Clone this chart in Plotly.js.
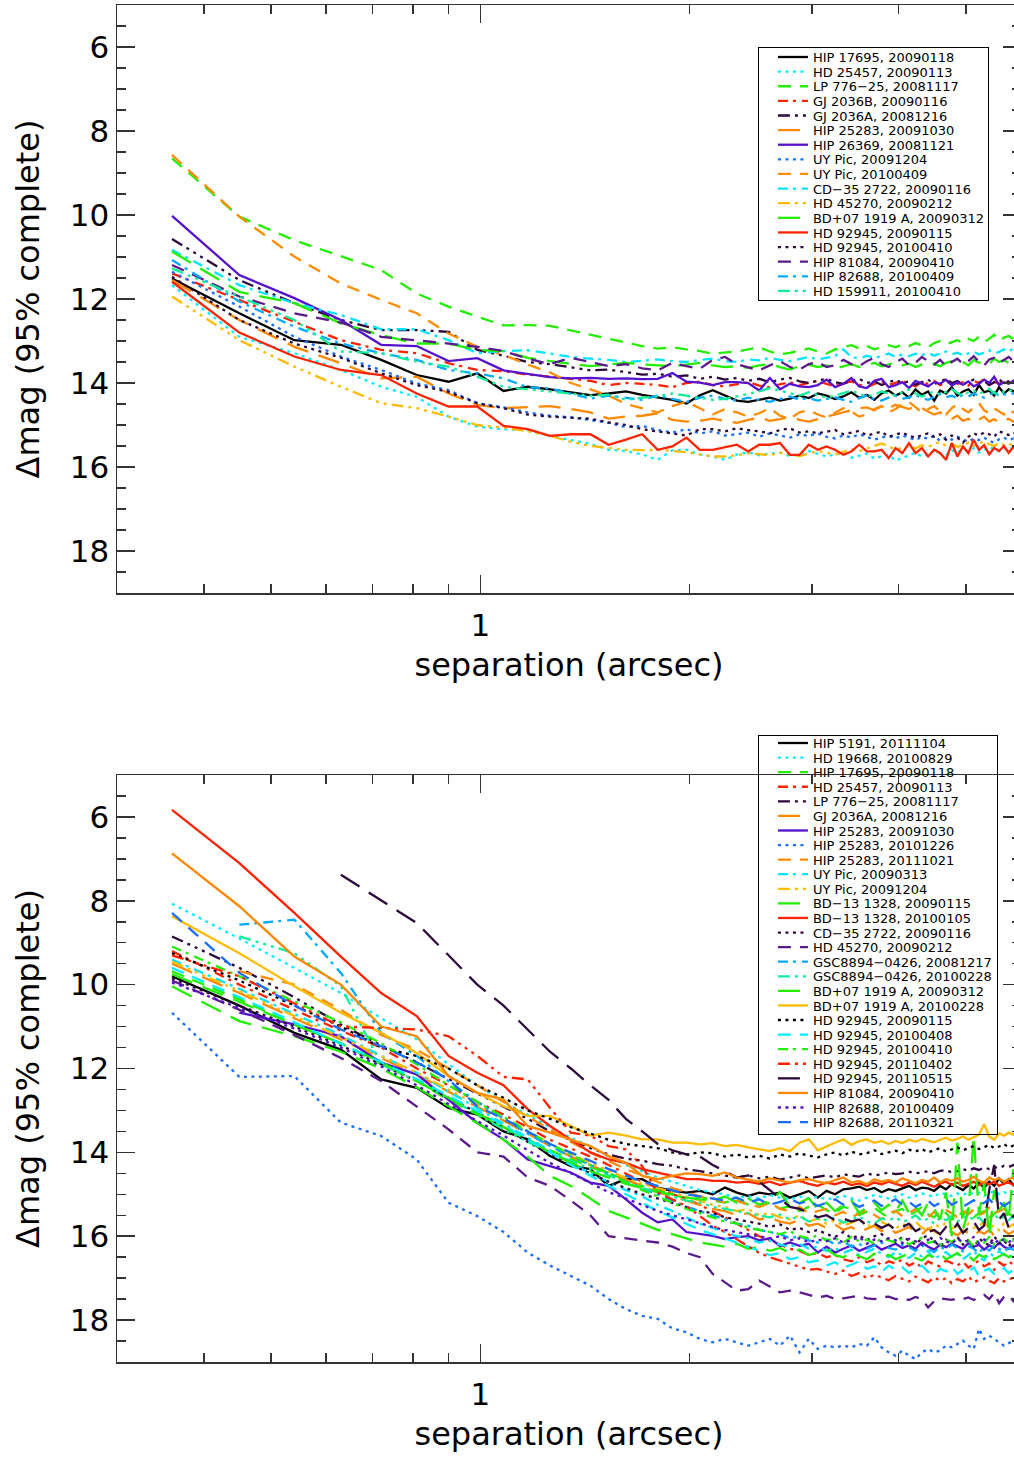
<!DOCTYPE html>
<html>
<head>
<meta charset="utf-8">
<script src="https://cdn.plot.ly/plotly-3.0.1.min.js"></script>
<style>
html,body{margin:0;padding:0;background:#fff;overflow:hidden;width:1014px;height:1459px;}
#top,#bot{width:1022px;}
</style>
</head>
<body>
<div id="top"></div>
<div id="bot"></div>
<script>
// ---------- shared separation grid (arcsec) ----------
const sep = [0.36,0.45,0.54,0.63,0.72,0.81,0.90,0.99,1.08,1.17,
1.26,1.35,1.44,1.53,1.62,1.71,1.80,1.89,1.98,2.07,
2.16,2.25,2.34,2.43,2.52,2.61,2.70,2.79,2.88,2.97,
3.06,3.15,3.24,3.33,3.42,3.51,3.60,3.69,3.78,3.87,
3.96,4.05,4.14,4.23,4.32,4.41,4.50,4.59,4.68,4.77,
4.86,4.95,5.04,5.13,5.22,5.31,5.40,5.49,5.58,5.67,
5.76,5.85,5.94];

const xMinorTicks = [0.3,0.4,0.5,0.6,0.7,0.8,0.9,2,3,4,5,6];
const xMajorTicks = [1];
const xMajorText = ['1'];
const yMajorTicks = [6,8,10,12,14,16,18];

// ---------- TOP PANEL series (Δmag, 95% complete) ----------
const topNames = ['HIP 17695, 20090118','HD 25457, 20090113','LP 776\u221225, 20081117','GJ 2036B, 20090116','GJ 2036A, 20081216','HIP 25283, 20091030','HIP 26369, 20081121','UY Pic, 20091204','UY Pic, 20100409','CD\u221235 2722, 20090116','HD 45270, 20090212','BD+07 1919 A, 20090312','HD 92945, 20090115','HD 92945, 20100410','HIP 81084, 20090410','HIP 82688, 20100409','HD 159911, 20100410'];

const t_hip17695 = [11.51,12.34,12.98,13.09,13.45,13.81,13.97,13.77,14.19,14.09,
14.15,14.22,14.29,14.25,14.20,14.28,14.35,14.40,14.49,14.29,
14.17,14.30,14.42,14.45,14.40,14.35,14.42,14.37,14.30,14.36,
14.25,14.30,14.38,14.32,14.22,14.35,14.28,14.40,14.25,14.18,
14.30,14.22,14.35,14.15,14.28,14.20,14.42,14.18,14.25,14.10,
14.30,14.20,14.15,14.28,14.05,14.22,14.18,14.30,14.10,14.25,
14.15,14.20,14.12];
const t_hd25457 = [11.67,12.90,13.29,13.69,14.09,14.33,14.80,15.04,15.10,15.12,
15.26,15.35,15.45,15.59,15.62,15.70,15.83,15.60,15.59,15.70,
15.75,15.83,15.70,15.65,15.72,15.68,15.66,15.74,15.70,15.62,
15.68,15.75,15.70,15.66,15.78,15.72,15.68,15.80,15.74,15.70,
15.85,15.78,15.72,15.66,15.75,15.70,15.62,15.68,15.72,15.60,
15.65,15.58,15.62,15.55,15.66,15.60,15.52,15.58,15.62,15.55,
15.60,15.52,15.58];
const t_lp77625 = [8.65,10.04,10.60,10.99,11.31,11.87,12.18,12.42,12.63,12.62,
12.64,12.75,12.85,12.95,13.05,13.12,13.18,13.15,13.20,13.24,
13.30,13.28,13.25,13.20,13.15,13.25,13.32,13.28,13.22,13.18,
13.25,13.30,13.20,13.15,13.10,13.18,13.12,13.20,13.15,13.10,
13.15,13.08,13.12,13.05,13.10,13.15,13.05,13.00,13.08,13.02,
12.98,13.05,12.95,13.00,12.90,13.02,12.95,12.85,13.00,12.92,
12.88,12.95,12.90];
const t_gj2036b = [11.39,12.02,12.54,12.98,13.21,13.29,13.53,13.69,13.72,13.80,
13.85,13.90,13.95,14.05,14.00,14.02,14.05,14.10,14.00,13.97,
14.05,14.08,14.02,13.98,14.06,14.10,14.03,13.98,14.05,14.00,
13.95,14.02,14.08,14.00,13.96,14.04,14.10,14.02,13.97,14.05,
14.00,13.94,14.03,14.08,13.98,14.02,13.95,14.05,14.00,13.92,
14.02,13.98,14.06,13.95,14.00,13.90,14.04,13.97,14.02,13.94,
13.98,14.02,13.95];
const t_gj2036a = [10.57,11.55,12.10,12.50,12.74,12.74,12.78,13.21,13.35,13.50,
13.55,13.62,13.70,13.68,13.75,13.80,13.78,13.85,13.82,13.90,
13.85,13.92,13.88,13.95,13.90,13.98,13.92,13.88,13.96,14.00,
13.94,13.90,13.98,14.02,13.95,13.90,14.00,13.96,14.05,13.98,
13.92,14.00,13.96,14.04,13.98,13.92,14.02,13.97,13.90,14.00,
13.95,14.03,13.98,13.92,14.00,13.95,14.05,13.98,13.92,14.00,
13.96,13.90,13.98];
const t_hip25283 = [11.55,12.50,13.14,13.53,13.89,13.85,14.25,14.52,14.60,14.58,
14.55,14.62,14.70,14.85,14.80,14.78,14.72,14.88,14.92,14.90,
14.85,14.90,14.95,14.88,14.82,14.90,14.86,14.80,14.88,14.92,
14.85,14.80,14.75,14.70,14.65,14.60,14.58,14.65,14.55,14.60,
14.52,14.58,14.62,14.55,14.60,14.68,14.75,14.70,14.80,14.85,
14.78,14.90,14.85,14.95,14.88,14.80,14.92,14.86,14.95,14.90,
14.85,14.92,14.88];
const t_hip26369 = [10.02,11.43,11.98,12.50,13.09,13.12,13.48,13.41,13.70,13.78,
13.86,13.89,13.88,13.90,13.89,13.91,13.90,13.76,13.97,13.99,
14.05,13.98,13.98,14.00,14.18,13.88,14.15,14.02,14.08,14.10,
14.05,13.92,14.10,14.02,13.88,14.08,14.12,13.95,13.90,14.10,
14.05,13.98,14.12,13.95,14.02,14.08,13.98,14.02,13.92,14.06,
13.98,14.04,13.96,14.08,14.02,13.92,14.00,13.85,14.05,13.98,
14.02,13.95,14.00];
const t_uypic_0912 = [11.35,12.18,12.90,13.37,13.69,14.01,14.17,14.48,14.58,14.70,
14.78,14.82,14.88,14.95,15.05,15.02,15.12,15.18,15.10,15.20,
15.15,15.25,15.22,15.18,15.28,15.20,15.25,15.30,15.22,15.26,
15.20,15.28,15.32,15.25,15.30,15.22,15.28,15.35,15.30,15.26,
15.32,15.25,15.30,15.36,15.28,15.33,15.26,15.38,15.30,15.35,
15.28,15.34,15.40,15.32,15.36,15.30,15.38,15.42,15.34,15.30,
15.36,15.32,15.38];
const t_uypic_1004 = [8.57,10.04,10.99,11.63,12.02,12.34,12.82,13.14,13.33,13.56,
13.75,14.00,14.15,14.30,14.50,14.60,14.70,14.55,14.45,14.60,
14.75,14.62,14.70,14.80,14.72,14.60,14.78,14.85,14.70,14.65,
14.75,14.82,14.70,14.60,14.68,14.80,14.75,14.62,14.55,14.70,
14.62,14.50,14.45,14.58,14.70,14.62,14.55,14.68,14.75,14.60,
14.50,14.62,14.70,14.58,14.48,14.65,14.72,14.60,14.68,14.75,
14.62,14.70,14.66];
const t_cd352722 = [10.83,11.67,12.10,12.38,12.72,12.72,12.98,13.29,13.24,13.22,
13.30,13.38,13.42,13.45,13.50,13.46,13.44,13.48,13.50,13.45,
13.42,13.48,13.50,13.44,13.46,13.40,13.45,13.48,13.42,13.38,
13.44,13.40,13.36,13.20,13.38,13.42,13.35,13.40,13.36,13.30,
13.38,13.32,13.36,13.30,13.34,13.28,13.35,13.30,13.25,13.32,
13.28,13.34,13.30,13.25,13.32,13.28,13.22,13.30,13.26,13.20,
13.25,13.18,13.22];
const t_hd45270 = [11.94,12.98,13.61,14.09,14.48,14.60,14.80,15.00,15.06,15.15,
15.26,15.40,15.50,15.55,15.59,15.60,15.59,15.62,15.65,15.70,
15.75,15.75,15.72,15.67,15.70,15.72,15.66,15.70,15.74,15.68,
15.62,15.66,15.70,15.64,15.58,15.62,15.55,15.50,15.44,15.52,
15.58,15.54,15.50,15.56,15.48,15.52,15.46,15.40,15.50,15.45,
15.52,15.48,15.42,15.50,15.45,15.38,15.46,15.50,15.42,15.48,
15.44,15.50,15.46];
const t_bd071919 = [10.87,11.83,12.10,12.58,12.86,13.06,13.06,13.21,13.24,13.40,
13.48,13.55,13.60,13.56,13.52,13.56,13.58,13.60,13.56,13.52,
13.58,13.62,13.60,13.64,13.58,13.55,13.62,13.68,13.60,13.56,
13.62,13.58,13.66,13.60,13.55,13.62,13.58,13.52,13.60,13.56,
13.50,13.58,13.54,13.62,13.56,13.50,13.55,13.60,13.52,13.48,
13.55,13.50,13.58,13.45,13.52,13.48,13.55,13.42,13.50,13.46,
13.52,13.48,13.50];
const t_hd92945_0901 = [11.59,12.80,13.37,13.69,13.81,14.25,14.56,14.56,15.02,15.10,
15.26,15.22,15.22,15.47,15.35,15.22,15.59,15.51,15.30,15.59,
15.59,15.52,15.47,15.63,15.47,15.47,15.43,15.71,15.71,15.47,
15.59,15.51,15.59,15.71,15.63,15.47,15.63,15.63,15.59,15.79,
15.55,15.67,15.43,15.67,15.55,15.75,15.59,15.67,15.83,15.43,
15.75,15.51,15.67,15.35,15.59,15.48,15.70,15.55,15.62,15.50,
15.66,15.52,15.60];
const t_hd92945_1004 = [11.47,12.50,13.06,13.40,13.77,14.05,14.21,14.48,14.60,14.75,
14.80,14.82,14.85,14.94,15.00,15.10,15.15,15.20,15.25,15.10,
15.10,15.15,15.08,15.12,15.15,15.20,15.12,15.08,15.18,15.15,
15.20,15.16,15.12,15.22,15.18,15.14,15.25,15.20,15.16,15.28,
15.22,15.18,15.26,15.30,15.24,15.20,15.28,15.22,15.35,15.25,
15.30,15.42,15.28,15.20,15.25,15.18,15.22,15.28,15.15,15.20,
15.24,15.18,15.22];
const t_hip81084 = [11.19,11.94,12.34,12.56,12.90,12.98,13.06,13.14,13.24,13.42,
13.55,13.40,13.50,13.60,13.55,13.65,13.70,13.52,13.60,13.66,
13.45,13.38,13.55,13.62,13.70,13.58,13.48,13.62,13.68,13.55,
13.50,13.62,13.58,13.45,13.55,13.60,13.48,13.40,13.55,13.62,
13.50,13.42,13.58,13.52,13.38,13.48,13.56,13.45,13.60,13.50,
13.42,13.55,13.48,13.36,13.50,13.58,13.44,13.40,13.52,13.45,
13.38,13.48,13.42];
const t_hip82688 = [11.07,12.06,12.66,13.06,13.29,13.45,13.69,13.77,13.89,14.10,
14.13,14.25,14.37,14.30,14.35,14.40,14.30,14.38,14.45,14.35,
14.30,14.38,14.42,14.35,14.40,14.45,14.38,14.32,14.40,14.36,
14.42,14.38,14.34,14.40,14.45,14.36,14.30,14.38,14.42,14.35,
14.30,14.38,14.34,14.28,14.36,14.40,14.32,14.26,14.34,14.30,
14.36,14.28,14.32,14.25,14.30,14.35,14.28,14.22,14.30,14.26,
14.30,14.24,14.28];
const t_hd159911 = [11.27,11.94,12.50,13.25,13.29,13.49,13.61,13.85,14.09,14.15,
14.20,14.25,14.30,14.28,14.40,14.35,14.32,14.25,14.30,14.35,
14.40,14.38,14.32,14.25,14.20,14.12,14.18,14.25,14.30,14.22,
14.28,14.35,14.30,14.24,14.18,14.26,14.32,14.28,14.20,14.25,
14.30,14.22,14.16,14.25,14.32,14.26,14.20,14.28,14.22,14.15,
14.24,14.30,14.22,14.18,14.26,14.20,14.14,14.24,14.28,14.20,
14.16,14.22,14.18];

const topSeries = [t_hip17695,t_hd25457,t_lp77625,t_gj2036b,t_gj2036a,t_hip25283,t_hip26369,t_uypic_0912,t_uypic_1004,t_cd352722,t_hd45270,t_bd071919,t_hd92945_0901,t_hd92945_1004,t_hip81084,t_hip82688,t_hd159911];

// ---------- BOTTOM PANEL series ----------
const botNames = ['HIP 5191, 20111104','HD 19668, 20100829','HIP 17695, 20090118','HD 25457, 20090113','LP 776\u221225, 20081117','GJ 2036A, 20081216','HIP 25283, 20091030','HIP 25283, 20101226','HIP 25283, 20111021','UY Pic, 20090313','UY Pic, 20091204','BD\u221213 1328, 20090115','BD\u221213 1328, 20100105','CD\u221235 2722, 20090116','HD 45270, 20090212','GSC8894\u22120426, 20081217','GSC8894\u22120426, 20100228','BD+07 1919 A, 20090312','BD+07 1919 A, 20100228','HD 92945, 20090115','HD 92945, 20100408','HD 92945, 20100410','HD 92945, 20110402','HD 92945, 20110515','HIP 81084, 20090410','HIP 82688, 20100409','HIP 82688, 20110321'];

const b_hip5191 = [9.80,10.50,11.15,11.55,12.26,12.46,12.94,13.10,13.50,13.69,
14.09,14.33,14.40,14.80,14.64,14.64,14.84,14.92,14.96,14.92,
15.00,14.84,14.96,15.04,14.96,15.00,14.96,15.08,15.00,14.92,
15.08,14.92,15.00,14.88,14.86,14.82,14.90,14.85,14.95,14.88,
14.92,14.85,14.80,14.90,14.84,14.86,14.92,14.80,14.88,14.76,
14.84,14.90,14.78,14.86,14.72,14.85,14.70,14.80,14.62,14.75,
14.64,14.78,14.70];
const b_hd19668 = [8.07,8.90,9.60,10.20,10.80,11.30,11.90,12.40,12.80,13.10,
13.40,13.65,13.85,14.10,14.30,14.45,14.60,14.70,14.80,14.90,
14.95,15.00,15.08,15.05,15.10,15.02,15.08,15.12,15.05,15.10,
15.06,15.12,15.08,15.04,15.10,15.15,15.08,15.02,15.06,15.10,
15.05,15.00,15.08,15.04,14.98,15.02,15.06,14.96,15.00,15.04,
14.98,15.02,14.95,15.00,14.96,15.04,14.98,14.92,15.00,14.95,
14.98,14.94,15.00];
const b_hip17695 = [9.68,10.35,10.95,11.40,11.90,12.30,12.75,13.10,13.40,13.70,
13.95,14.15,14.35,14.50,14.65,14.80,14.90,15.00,15.10,15.05,
15.15,15.20,15.10,15.25,15.30,15.20,15.35,15.28,15.40,15.30,
15.25,15.38,15.45,15.30,15.35,15.50,15.40,15.32,15.45,15.55,
15.40,15.35,15.50,15.42,15.30,15.48,15.55,15.38,15.45,15.60,
15.42,15.50,15.35,15.55,15.45,15.40,15.58,15.48,15.36,15.50,
15.45,15.55,15.40];
const b_hd25457 = [9.20,10.00,10.60,11.10,11.50,12.00,12.40,12.80,13.10,13.40,
13.70,13.90,14.10,14.30,14.50,14.70,14.85,15.00,15.10,15.25,
15.40,15.55,15.70,15.85,16.00,16.10,16.20,16.30,16.35,16.45,
16.40,16.50,16.45,16.55,16.60,16.50,16.62,16.55,16.70,16.60,
16.65,16.55,16.70,16.62,16.75,16.60,16.68,16.72,16.58,16.65,
16.70,16.60,16.75,16.66,16.58,16.72,16.65,16.80,16.62,16.70,
16.60,16.68,16.55];
const b_lp77625 = [8.85,9.60,10.30,10.95,11.45,11.85,12.25,12.60,12.90,13.20,
13.50,13.70,13.90,14.05,14.15,14.20,14.28,14.32,14.40,14.45,
14.50,14.55,14.60,14.55,14.62,14.58,14.65,14.60,14.55,14.62,
14.58,14.55,14.60,14.52,14.56,14.58,14.50,14.55,14.52,14.48,
14.52,14.50,14.46,14.50,14.48,14.45,14.50,14.44,14.42,14.48,
14.45,14.40,14.44,14.38,14.42,14.36,14.40,14.35,14.38,14.32,
14.35,14.30,14.34];
const b_gj2036a = [9.50,10.20,10.80,11.30,11.75,12.15,12.55,12.90,13.25,13.55,
13.85,14.10,14.30,14.50,14.65,14.80,14.95,15.05,15.15,15.25,
15.35,15.40,15.50,15.45,15.60,15.55,15.65,15.70,15.60,15.75,
15.70,15.80,15.72,15.85,15.78,15.90,15.82,15.75,15.88,15.80,
15.92,15.85,15.78,15.90,15.95,15.82,15.88,15.96,15.84,15.90,
15.98,15.86,15.92,16.00,15.88,15.94,15.85,15.98,15.90,15.86,
15.95,15.88,15.92];
const b_hip25283_0910 = [null,10.67,10.95,11.23,11.86,12.14,12.74,13.30,13.69,14.17,
14.33,14.48,14.72,14.80,15.12,15.44,15.67,15.60,15.90,15.95,
15.99,16.07,16.02,16.00,16.10,16.05,16.23,16.15,16.23,16.18,
16.39,16.25,16.39,16.30,16.22,16.35,16.28,16.20,16.32,16.25,
16.18,16.28,16.22,16.30,16.15,16.25,16.32,16.20,16.26,16.18,
16.24,16.30,16.16,16.25,16.20,16.32,16.22,16.28,16.15,16.25,
16.30,16.22,16.35];
const b_hip25283_1012 = [10.67,12.20,12.18,13.29,13.61,14.17,15.20,15.52,15.90,16.39,
16.70,16.94,17.18,17.50,17.74,17.90,17.97,18.20,18.29,18.45,
18.53,18.45,18.53,18.61,18.53,18.45,18.61,18.37,18.77,18.45,
18.69,18.61,18.65,18.61,18.65,18.57,18.61,18.41,18.65,18.77,
18.85,18.73,18.85,18.93,18.77,18.69,18.77,18.73,18.61,18.65,
18.57,18.49,18.61,18.69,18.21,18.45,18.37,18.45,18.53,18.61,
18.55,18.50,18.58];
const b_hip25283_1110 = [null,9.68,10.00,10.60,11.20,11.55,12.00,12.40,12.80,13.15,
13.45,13.75,14.00,14.20,14.40,14.55,14.70,14.85,14.95,15.05,
15.10,15.20,15.15,15.25,15.30,15.20,15.35,15.40,15.30,15.45,
15.40,15.35,15.50,15.42,15.55,15.45,15.38,15.50,15.60,15.45,
15.40,15.52,15.45,15.35,15.48,15.55,15.42,15.50,15.38,15.45,
15.55,15.40,15.48,15.36,15.50,15.44,15.32,15.46,15.40,15.35,
15.42,15.30,15.38];
const b_uypic_0903 = [9.40,10.10,10.70,11.20,11.70,12.10,12.55,12.95,13.30,13.65,
13.95,14.25,14.50,14.70,14.90,15.05,15.25,15.40,15.55,15.70,
15.80,15.90,16.00,16.05,16.15,16.10,16.20,16.25,16.18,16.30,
16.25,16.35,16.28,16.40,16.32,16.45,16.38,16.30,16.42,16.50,
16.38,16.45,16.52,16.40,16.48,16.35,16.55,16.45,16.38,16.50,
16.42,16.55,16.45,16.35,16.50,16.58,16.40,16.48,16.36,16.45,
16.52,16.40,16.46];
const b_uypic_0912 = [9.45,10.15,10.75,11.25,11.70,12.10,12.50,12.85,13.20,13.50,
13.80,14.05,14.25,14.45,14.60,14.75,14.85,14.95,15.05,15.15,
15.25,15.30,15.40,15.35,15.50,15.45,15.55,15.60,15.50,15.65,
15.58,15.70,15.62,15.75,15.68,15.60,15.72,15.80,15.66,15.75,
15.82,15.70,15.78,15.65,15.80,15.85,15.72,15.78,15.68,15.82,
15.75,15.88,15.70,15.80,15.76,15.65,15.82,15.74,15.86,15.70,
15.78,15.72,15.80];
const b_bd131328_0901 = [10.04,10.87,11.23,11.60,12.00,12.45,12.90,13.30,13.70,14.10,
14.56,14.80,15.10,15.40,15.55,15.70,15.85,15.95,16.05,16.15,
16.20,16.25,16.18,16.30,16.25,16.35,16.28,16.40,16.32,16.45,
16.38,16.30,16.45,16.50,16.40,16.48,16.55,16.42,16.50,16.45,
16.55,16.48,16.40,16.52,16.58,16.45,16.50,16.42,16.55,16.48,
16.40,16.52,16.46,16.58,16.44,16.50,16.38,16.55,16.48,16.42,
16.50,16.45,16.52];
const b_bd131328_1001 = [5.83,7.10,8.29,9.33,10.20,10.75,11.70,12.10,12.40,12.97,
13.37,13.69,14.00,14.17,14.25,14.40,14.48,14.56,14.64,14.64,
14.68,14.68,14.72,14.70,14.75,14.70,14.78,14.72,14.68,14.75,
14.80,14.72,14.76,14.70,14.78,14.74,14.80,14.72,14.76,14.70,
14.75,14.80,14.72,14.78,14.70,14.76,14.82,14.74,14.70,14.78,
14.72,14.80,14.75,14.70,14.78,14.72,14.76,14.70,14.80,14.74,
14.72,14.78,14.75];
const b_cd352722 = [9.85,10.50,11.00,11.45,11.90,12.30,12.70,13.05,13.40,13.75,
14.05,14.30,14.50,14.70,14.85,15.00,15.10,15.20,15.30,15.40,
15.45,15.55,15.60,15.65,15.70,15.78,15.72,15.85,15.80,15.90,
15.85,15.95,16.02,15.90,16.05,15.98,16.10,16.00,15.95,16.08,
16.15,16.02,16.10,16.20,16.05,15.98,16.12,16.25,16.08,16.15,
16.02,16.20,16.10,16.28,16.05,16.15,16.22,16.00,16.18,16.10,
16.25,16.08,16.15];
const b_hd45270 = [9.90,10.60,11.20,11.75,12.30,12.90,13.45,14.00,14.10,14.60,
14.80,15.15,15.50,16.00,16.05,16.10,16.15,16.25,16.40,16.50,
16.90,17.10,17.30,17.26,17.06,17.20,17.34,17.30,17.34,17.40,
17.46,17.42,17.50,17.48,17.45,17.42,17.48,17.50,17.46,17.44,
17.50,17.48,17.52,17.45,17.50,17.70,17.55,17.48,17.50,17.52,
17.48,17.50,17.46,17.52,17.45,17.40,17.50,17.35,17.60,17.45,
17.40,17.55,17.48];
const b_gsc8894_0812 = [null,8.57,8.45,9.72,11.15,11.70,12.30,12.80,13.20,13.55,
13.85,14.10,14.30,14.50,14.70,14.85,15.00,15.15,15.30,15.40,
15.50,15.60,15.70,15.75,15.85,15.90,15.95,16.05,16.00,16.10,
16.15,16.08,16.20,16.12,16.25,16.18,16.30,16.22,16.15,16.28,
16.32,16.20,16.26,16.35,16.22,16.30,16.38,16.25,16.32,16.20,
16.28,16.36,16.24,16.30,16.40,16.26,16.34,16.22,16.30,16.38,
16.28,16.32,16.25];
const b_gsc8894_1002 = [null,8.85,9.25,10.04,11.90,12.30,12.70,13.10,13.45,13.75,
14.00,14.20,14.40,14.55,14.70,14.85,14.95,15.05,15.15,15.20,
15.30,15.35,15.40,15.45,15.50,15.55,15.48,15.60,15.52,15.65,
15.58,15.62,15.55,15.68,15.60,15.52,15.65,15.70,15.58,15.62,
15.55,15.66,15.60,15.50,15.64,15.58,15.70,15.55,15.62,15.52,
15.65,15.58,15.50,15.62,15.55,15.68,15.56,15.48,15.60,15.54,
15.62,15.50,15.58];
const b_bd071919_0903 = [9.75,10.40,10.95,11.40,11.85,12.30,12.70,13.05,13.40,13.70,
14.00,14.25,14.45,14.60,14.75,14.85,14.95,15.00,15.08,15.12,
15.15,15.05,15.20,15.10,15.25,15.15,14.95,15.30,15.20,15.10,
15.35,15.20,15.40,15.25,15.15,15.45,15.30,15.20,15.38,15.25,
15.40,15.15,15.45,15.30,15.50,15.20,15.35,15.60,14.96,16.00,
13.77,15.83,15.40,13.60,15.50,14.72,16.00,14.90,15.40,15.20,
15.60,14.40,15.30];
const b_bd071919_1002 = [8.37,9.25,10.04,10.67,11.15,11.63,12.18,12.58,12.90,13.13,
13.13,13.37,13.60,13.53,13.60,13.69,13.69,13.77,13.77,13.81,
13.78,13.85,13.82,13.88,13.92,13.97,13.90,13.97,13.77,13.69,
13.95,13.85,13.77,13.69,13.82,13.73,13.69,13.77,13.73,13.80,
13.73,13.78,13.70,13.75,13.68,13.72,13.76,13.70,13.65,13.72,
13.68,13.62,13.70,13.64,13.58,13.33,13.62,13.70,13.55,13.60,
13.53,13.58,13.50];
const b_hd92945_0901 = [9.25,9.90,10.50,11.00,11.50,11.70,12.00,12.40,12.70,13.00,
13.20,13.40,13.55,13.70,13.80,13.85,13.90,14.00,14.05,14.00,
14.02,14.10,14.05,14.12,14.08,14.15,14.05,14.10,14.02,14.08,
14.12,14.05,14.00,14.08,13.98,14.05,14.02,13.95,14.04,14.00,
13.96,14.02,13.94,13.98,13.92,14.00,13.95,13.90,13.98,13.92,
13.88,13.95,13.90,13.85,13.92,13.88,13.82,13.90,13.86,13.80,
13.88,13.84,13.86];
const b_hd92945_1004a = [9.60,10.30,10.90,11.40,11.85,12.25,12.65,13.00,13.35,13.70,
14.00,14.30,14.55,14.80,15.00,15.20,15.40,15.55,15.70,15.85,
15.95,16.05,16.15,16.25,16.35,16.45,16.40,16.55,16.50,16.62,
16.58,16.70,16.62,16.75,16.68,16.60,16.78,16.72,16.85,16.70,
16.80,16.74,16.88,16.76,16.70,16.85,16.92,16.78,16.84,16.72,
16.90,16.80,16.86,16.74,16.95,16.82,16.78,16.90,16.84,16.76,
16.88,16.80,16.85];
const b_hd92945_1004b = [9.09,9.80,10.40,10.90,11.40,11.90,12.40,12.80,13.15,13.50,
13.80,14.05,14.30,14.50,14.70,14.90,15.05,15.20,15.35,15.45,
15.55,15.65,15.70,15.80,15.85,15.90,15.95,15.88,16.00,16.05,
15.98,16.10,16.05,16.15,16.02,16.12,16.08,16.18,16.05,16.10,
16.15,16.06,16.20,16.10,16.04,16.16,16.12,16.22,16.08,16.14,
16.05,16.18,16.10,16.24,16.08,16.15,16.02,16.20,16.12,16.06,
16.15,16.10,16.18];
const b_hd92945_1104 = [9.30,9.80,10.45,11.00,11.03,11.07,11.23,11.70,12.20,12.26,
12.94,13.53,13.60,13.85,13.93,14.33,14.96,15.12,15.28,15.52,
15.75,15.90,16.07,16.25,16.40,16.50,16.58,16.65,16.72,16.80,
16.78,16.85,16.90,16.82,16.95,16.88,17.00,16.92,16.98,17.05,
16.95,17.02,17.08,16.96,17.04,17.10,16.98,17.06,17.00,17.12,
17.02,17.08,16.96,17.10,17.04,16.98,17.06,17.12,17.00,17.08,
17.04,16.98,17.05];
const b_hd92945_1105 = [null,null,null,7.38,7.98,8.53,9.30,10.00,10.50,11.07,
11.60,12.00,12.40,12.75,13.20,13.50,13.80,13.95,14.05,14.10,
14.30,14.45,14.60,14.55,14.70,14.90,15.10,15.30,15.35,15.45,
15.55,15.50,15.62,15.58,15.65,15.60,15.75,15.70,15.80,15.72,
15.85,15.78,15.70,15.88,15.80,15.90,15.85,15.95,15.78,15.88,
15.70,15.92,15.80,15.65,15.85,15.75,14.90,14.30,15.60,15.45,
15.80,15.50,15.65];
const b_hip81084 = [6.87,8.13,9.33,10.00,11.00,11.23,12.18,12.58,12.74,13.37,
13.53,13.69,13.85,14.09,14.25,14.56,14.64,14.56,14.50,14.52,
14.56,14.48,14.60,14.65,14.70,14.62,14.68,14.72,14.66,14.64,
14.70,14.74,14.66,14.60,14.72,14.68,14.76,14.64,14.70,14.66,
14.72,14.62,14.68,14.74,14.66,14.70,14.60,14.72,14.64,14.68,
14.62,14.70,14.66,14.58,14.68,14.72,14.60,14.66,14.62,14.70,
14.64,14.60,14.66];
const b_hip82688_1004 = [9.95,10.55,11.05,11.50,11.95,12.40,12.85,13.25,13.60,13.95,
14.25,14.50,14.75,14.95,15.10,15.25,15.40,15.50,15.60,15.70,
15.78,15.85,15.90,15.95,16.00,16.05,16.00,16.10,16.05,16.15,
16.08,16.12,16.05,16.15,16.10,16.02,16.18,16.08,16.12,16.05,
16.10,16.16,16.06,16.12,16.20,16.08,16.14,16.04,16.12,16.18,
16.06,16.14,16.10,16.02,16.16,16.08,16.12,16.20,16.06,16.10,
16.14,16.08,16.12];
const b_hip82688_1103 = [8.29,9.72,10.50,11.07,11.47,11.85,12.26,12.90,13.20,13.50,
13.80,14.00,14.20,14.40,14.55,14.70,14.80,14.90,15.00,15.05,
15.10,15.15,15.08,15.20,15.12,15.25,15.18,15.10,15.22,15.15,
15.28,15.20,15.12,15.25,15.18,15.30,15.22,15.15,15.28,15.20,
15.12,15.25,15.18,15.30,15.22,15.15,15.28,15.20,15.12,15.25,
15.18,15.30,15.22,15.14,15.26,15.20,15.12,15.24,15.18,15.28,
15.20,15.14,15.22];

const botSeries = [b_hip5191,b_hd19668,b_hip17695,b_hd25457,b_lp77625,b_gj2036a,b_hip25283_0910,b_hip25283_1012,b_hip25283_1110,b_uypic_0903,b_uypic_0912,b_bd131328_0901,b_bd131328_1001,b_cd352722,b_hd45270,b_gsc8894_0812,b_gsc8894_1002,b_bd071919_0903,b_bd071919_1002,b_hd92945_0901,b_hd92945_1004a,b_hd92945_1004b,b_hd92945_1104,b_hd92945_1105,b_hip81084,b_hip82688_1004,b_hip82688_1103];

// ---------- styles ----------
const PALETTE = ['#000000','#00eeff','#22ee00','#ff2200','#2d0a3c','#ff8800','#5511cc','#1a6eff','#ff8c00','#00e5ff','#ffbb00','#22ee00','#ff2200','#2d0a3c','#5a1a8c','#00aaff','#11ee99','#22ee00','#ffbb00','#000000','#00eeff','#22ee00','#ff2200','#2d0a3c','#ff8800','#5511cc','#1a6eff'];
const DASHES = ['solid','3px,4.5px','13px,9px','10px,5px,3px,6px','12px,5px,3px,5px,3px,5px,3px,5px','22px,11px'];
const FONT = 'DejaVu Sans, Liberation Sans, Arial, sans-serif';
const AXC = '#333';

function traces(names, series) {
  return names.map((n, i) => ({
    type: 'scatter', mode: 'lines', x: sep, y: series[i], name: n,
    line: {color: PALETTE[i], width: 2.3, dash: DASHES[i % 6]},
    hoverinfo: 'skip'
  }));
}

function layout(h, t, b, legY) {
  return {
    width: 1022, height: h,
    margin: {l: 117, r: 1, t: t, b: b},
    paper_bgcolor: '#fff', plot_bgcolor: '#fff',
    showlegend: true, hovermode: false,
    font: {family: FONT, color: '#000'},
    xaxis: {
      type: 'log', range: [Math.log10(0.3), Math.log10(6)],
      tickmode: 'array', tickvals: xMajorTicks, ticktext: xMajorText,
      ticks: 'inside', ticklen: 18, tickwidth: 1.5, tickcolor: AXC,
      showline: true, linecolor: AXC, linewidth: 1.5, mirror: 'ticks',
      showgrid: false, zeroline: false, ticklabelstandoff: 4,
      tickfont: {family: FONT, size: 31, color: '#000'},
      title: {text: 'separation (arcsec)', font: {family: FONT, size: 32, color: '#000'}, standoff: 12},
      minor: {tickmode: 'array', tickvals: xMinorTicks, ticks: 'inside', ticklen: 9, tickwidth: 1.5, tickcolor: AXC, showgrid: false}
    },
    yaxis: {
      range: [19, 5],
      tickmode: 'array', tickvals: yMajorTicks,
      ticks: 'inside', ticklen: 18, tickwidth: 1.5, tickcolor: AXC,
      showline: true, linecolor: AXC, linewidth: 1.5, mirror: 'ticks',
      showgrid: false, zeroline: false,
      tickfont: {family: FONT, size: 31, color: '#000'},
      title: {text: '\u0394mag (95% complete)', font: {family: FONT, size: 32, color: '#000'}, standoff: 20},
      minor: {dtick: 0.5, ticks: 'inside', ticklen: 9, tickwidth: 1.5, tickcolor: AXC, showgrid: false}
    },
    legend: {
      x: 0.709, xanchor: 'left', y: legY, yanchor: 'top',
      bgcolor: 'rgba(255,255,255,0)', bordercolor: '#000', borderwidth: 1,
      font: {family: FONT, size: 13, color: '#000'},
      tracegroupgap: 0, itemwidth: 30, traceorder: 'normal'
    }
  };
}

// compact legend rows to match the tight IDL legend spacing
function compactLegend(gd, rowH, padTop, padBot, boxW, itemX) {
  const leg = gd.querySelector('g.legend');
  if (!leg) return;
  const sb = leg.querySelector('g.scrollbox');
  if (sb) { sb.removeAttribute('clip-path'); sb.setAttribute('transform', 'translate(0,0)'); }
  leg.removeAttribute('clip-path');
  leg.querySelectorAll('rect.scrollbar').forEach(r => r.setAttribute('display', 'none'));
  const items = leg.querySelectorAll('g.traces');
  items.forEach((g, i) => {
    g.setAttribute('transform', 'translate(' + itemX + ',' + (padTop + i * rowH) + ')');
  });
  const H = padTop + (items.length - 1) * rowH + padBot;
  const bg = leg.querySelector('rect.bg');
  if (bg) { bg.setAttribute('height', H); bg.setAttribute('width', boxW); }
}

const cfg = {staticPlot: true, displayModeBar: false};
Plotly.newPlot('top', traces(topNames, topSeries), layout(730, 5, 137, 0.92857), cfg)
  .then(gd => compactLegend(gd, 14.62, 10, 9, 230, 15));
Plotly.newPlot('bot', traces(botNames, botSeries), layout(729, 45, 97, 1.06814), cfg)
  .then(gd => compactLegend(gd, 14.58, 8, 12, 239, 15));
</script>
</body>
</html>
